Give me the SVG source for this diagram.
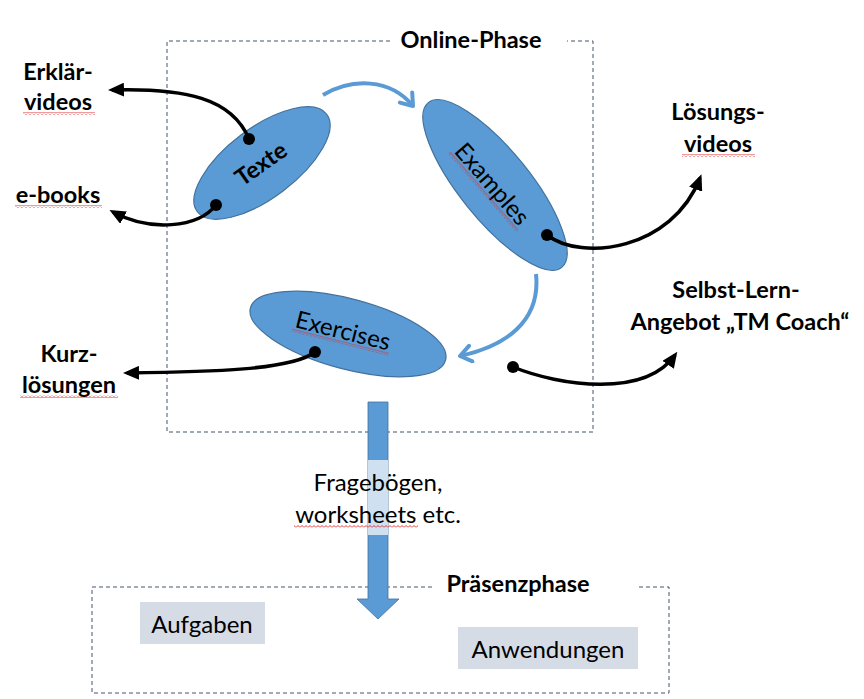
<svg xmlns="http://www.w3.org/2000/svg" width="864" height="699" viewBox="0 0 864 699">
<style>
  .lbl { font-family: Lato, "Liberation Sans", sans-serif; font-weight: bold; font-size: 23.5px; fill: #000; text-anchor: middle; }
  .reg { font-family: Lato, "Liberation Sans", sans-serif; font-weight: normal; font-size: 24px; fill: #000; text-anchor: middle; }
  .ell { fill: #5B9BD5; stroke: #41719C; stroke-width: 1.2; }
  .frame { fill: none; stroke: #44546A; stroke-width: 1; stroke-dasharray: 4 3; }
  .blk { fill: none; stroke: #000; stroke-width: 3.5; }
  .blu { fill: none; stroke: #5B9BD5; stroke-width: 4; }
  .dot { fill: #000; }
  .box { fill: #D6DCE5; }
  .sq { fill: url(#squig); }
</style>
<defs>
  <marker id="ah" markerUnits="userSpaceOnUse" markerWidth="16" markerHeight="14" refX="12" refY="7" orient="auto">
    <path d="M0,0 L16,7 L0,14 z" fill="#000"/>
  </marker>
  <marker id="bh" markerUnits="userSpaceOnUse" markerWidth="16" markerHeight="20" refX="13" refY="10" orient="auto">
    <path d="M2,2 L13,10 L2,18" fill="none" stroke="#5B9BD5" stroke-width="4" stroke-linecap="round" stroke-linejoin="round"/>
  </marker>
  <pattern id="squig" width="4" height="3" patternUnits="userSpaceOnUse">
    <path d="M0,2.5 L2,0.5 L4,2.5" fill="none" stroke="#E02020" stroke-width="0.9"/>
  </pattern>
</defs>

<g id="online-frame">
  <path class="frame" d="M390,41 H167 V432 H593 V41 H567"/>
  <text class="lbl" x="471" y="48">Online-Phase</text>
</g>

<g id="praesenz-frame">
  <path class="frame" d="M432,587 H92 V693 H669 V587 H636"/>
  <text class="lbl" x="518" y="592">Präsenzphase</text>
</g>

<g id="block-arrow">
  <path d="M368,402 H388 V599 H399 L378,619 L357,599 H368 Z" fill="#5B9BD5" stroke="#41719C" stroke-width="0.8"/>
  <rect x="368" y="460" width="20" height="75" fill="#CFE0F1"/>
  <text class="reg" x="378" y="491">Fragebögen,</text>
  <text class="reg" x="378" y="523">worksheets etc.</text>
  <rect class="sq" x="294" y="525" width="124" height="3"/>
</g>

<g id="node-texte">
  <ellipse class="ell" cx="262" cy="163" rx="81" ry="35" transform="rotate(-37 262 163)"/>
  <g transform="translate(261,164) rotate(-35)">
    <text class="lbl" x="0" y="8">Texte</text>
  </g>
</g>

<g id="node-examples">
  <ellipse class="ell" cx="495" cy="185" rx="106" ry="35" transform="rotate(51 495 185)"/>
  <g transform="translate(492,184) rotate(49)">
    <text class="reg" x="0" y="8">Examples</text>
    <rect class="sq" x="-52" y="10" width="104" height="3"/>
  </g>
</g>

<g id="node-exercises">
  <ellipse class="ell" cx="348" cy="334" rx="101" ry="35" transform="rotate(15 348 334)"/>
  <g transform="translate(343,331) rotate(14)">
    <text class="reg" x="0" y="8">Exercises</text>
    <rect class="sq" x="-50" y="10" width="100" height="3"/>
  </g>
</g>

<g id="connectors">
  <path class="blu" d="M323,95 C352,78 390,78 413,106" marker-end="url(#bh)"/>
  <path class="blu" d="M536,274 C541,322 505,346 460,356" marker-end="url(#bh)"/>
  <path class="blk" d="M249,139 C232,98 185,88 112,90" marker-end="url(#ah)"/>
  <path class="blk" d="M216,205 C198,228 150,232 113,212" marker-end="url(#ah)"/>
  <path class="blk" d="M547,235 C582,262 672,250 700,178" marker-end="url(#ah)"/>
  <path class="blk" d="M513,367 C560,386 645,398 675,355" marker-end="url(#ah)"/>
  <path class="blk" d="M315,352 C292,370 210,372 127,373" marker-end="url(#ah)"/>
  <circle class="dot" cx="249" cy="139" r="6"/>
  <circle class="dot" cx="216" cy="205" r="6"/>
  <circle class="dot" cx="547" cy="235" r="6"/>
  <circle class="dot" cx="513" cy="367" r="6"/>
  <circle class="dot" cx="315" cy="352" r="6"/>
</g>

<g id="label-erklaervideos">
  <text class="lbl" x="58" y="80">Erklär-</text>
  <text class="lbl" x="58" y="110">videos</text>
  <rect class="sq" x="23" y="112" width="72" height="3"/>
</g>

<g id="label-ebooks">
  <text class="lbl" x="58" y="203">e-books</text>
  <rect class="sq" x="15" y="205" width="87" height="3"/>
</g>

<g id="label-loesungsvideos">
  <text class="lbl" x="718" y="120">Lösungs-</text>
  <text class="lbl" x="718" y="152">videos</text>
  <rect class="sq" x="682" y="154" width="73" height="3"/>
</g>

<g id="label-selbstlern">
  <text class="lbl" x="736" y="298">Selbst-Lern-</text>
  <text class="lbl" x="740" y="330">Angebot „TM Coach“</text>
</g>

<g id="label-kurzloesungen">
  <text class="lbl" x="69" y="362">Kurz-</text>
  <text class="lbl" x="69" y="393">lösungen</text>
  <rect class="sq" x="20" y="395" width="98" height="3"/>
</g>

<g id="node-aufgaben">
  <rect class="box" x="140" y="602" width="125" height="42"/>
  <text class="reg" x="202" y="633">Aufgaben</text>
</g>

<g id="node-anwendungen">
  <rect class="box" x="458" y="627" width="180" height="42"/>
  <text class="reg" x="548" y="658">Anwendungen</text>
</g>
</svg>
